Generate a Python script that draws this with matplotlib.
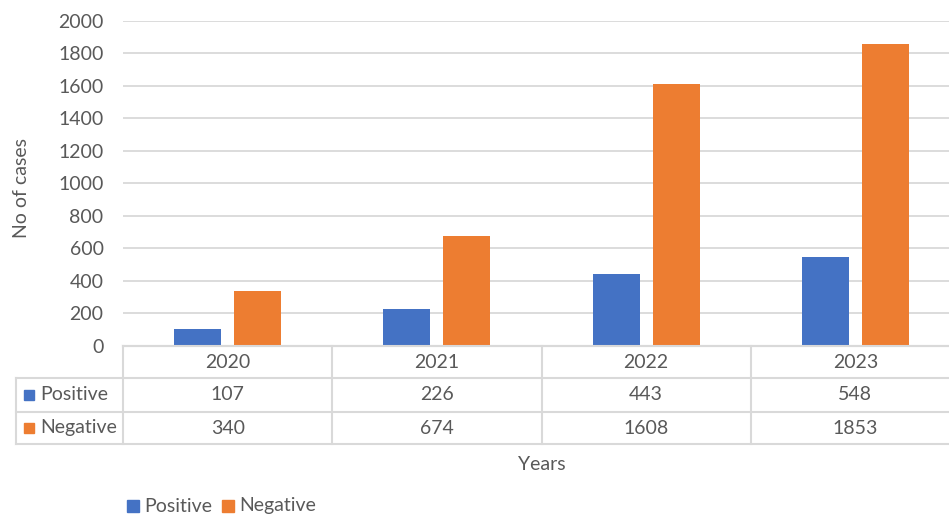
import matplotlib
matplotlib.use("Agg")
import matplotlib.pyplot as plt
from matplotlib.lines import Line2D
from matplotlib.patches import Rectangle
import matplotlib.transforms as mtransforms
import numpy as np

years = ["2020", "2021", "2022", "2023"]
series_names = ["Positive", "Negative"]
positive = [107, 226, 443, 548]
negative = [340, 674, 1608, 1853]
yticks = [0, 200, 400, 600, 800, 1000, 1200, 1400, 1600, 1800, 2000]

colors = ["#4472C4", "#ED7D31"]
text_col = "#595959"
grid_col = "#D9D9D9"
font = ["Lato", "DejaVu Sans"]
plt.rcParams['font.family'] = font
FS = 14

W, H = 949, 514
fig = plt.figure(figsize=(W / 100, H / 100), dpi=100)

def fx(px):
    return px / W

def fy(py):
    return 1 - py / H

left_px, right_px, top_px, bottom_px = 123, 960, 20.5, 346
ax = fig.add_axes([fx(left_px), fy(bottom_px), fx(right_px - left_px), (bottom_px - top_px) / H])
ax.set_xlim(-0.5, len(years) - 0.5)
ax.set_ylim(0, 2000)

x = np.arange(len(years))
bw = 0.225
off = 0.1435
ax.bar(x - off, positive, bw, color=colors[0], zorder=3)
ax.bar(x + off, negative, bw, color=colors[1], zorder=3)

ax.set_yticks(yticks)
ax.set_yticklabels([str(t) for t in yticks], fontsize=FS, color=text_col)
ax.tick_params(axis='y', length=0, pad=14)
ax.set_xticks([])
ax.yaxis.grid(True, color=grid_col, linewidth=1.3, zorder=0)
for s in ["top", "right", "left"]:
    ax.spines[s].set_visible(False)
ax.spines["bottom"].set_color(grid_col)
ax.spines["bottom"].set_linewidth(1.5)
ax.set_ylabel("No of cases", fontsize=FS, color=text_col)
ax.yaxis.set_label_coords((30 - left_px) / (right_px - left_px), 0.485)

# Data table below the axis
trans = mtransforms.blended_transform_factory(ax.transData, fig.transFigure)
row_y = [346, 378.3, 411.7, 444.3]
hdr_left = 16
lw = 1.5
fig.add_artist(Line2D([fx(left_px), fx(right_px)], [fy(row_y[0])] * 2, color=grid_col, lw=lw))
for ry in row_y[1:]:
    fig.add_artist(Line2D([fx(hdr_left), fx(right_px)], [fy(ry)] * 2, color=grid_col, lw=lw))
fig.add_artist(Line2D([fx(hdr_left)] * 2, [fy(row_y[1]), fy(row_y[3])], color=grid_col, lw=lw))
for i in range(len(years) + 1):
    fig.add_artist(Line2D([i - 0.5] * 2, [fy(row_y[0]), fy(row_y[3])], color=grid_col, lw=lw, transform=trans))

centers_y = [(row_y[k] + row_y[k + 1]) / 2 for k in range(3)]
for i, yr in enumerate(years):
    fig.text(i, fy(centers_y[0]), yr, transform=trans, ha="center", va="center", fontsize=FS, color=text_col)
    fig.text(i, fy(centers_y[1]), str(positive[i]), transform=trans, ha="center", va="center", fontsize=FS, color=text_col)
    fig.text(i, fy(centers_y[2]), str(negative[i]), transform=trans, ha="center", va="center", fontsize=FS, color=text_col)

for k, name in enumerate(series_names):
    cy = centers_y[k + 1]
    fig.add_artist(Rectangle((fx(24), fy(cy + 5)), fx(10), 10 / H, color=colors[k], transform=fig.transFigure))
    fig.text(fx(40), fy(cy), name, ha="left", va="center", fontsize=FS, color=text_col)

fig.text(fx(542), fy(465), "Years", ha="center", va="center", fontsize=FS, color=text_col)

# Legend at bottom
leg_y = 506
lx = [127, 222]
for k, name in enumerate(series_names):
    fig.add_artist(Rectangle((fx(lx[k]), fy(leg_y + 6)), fx(12), 12 / H, color=colors[k], transform=fig.transFigure))
    fig.text(fx(lx[k] + 17), fy(leg_y), name, ha="left", va="center", fontsize=FS, color=text_col)

fig.savefig("out.png", dpi=100)
